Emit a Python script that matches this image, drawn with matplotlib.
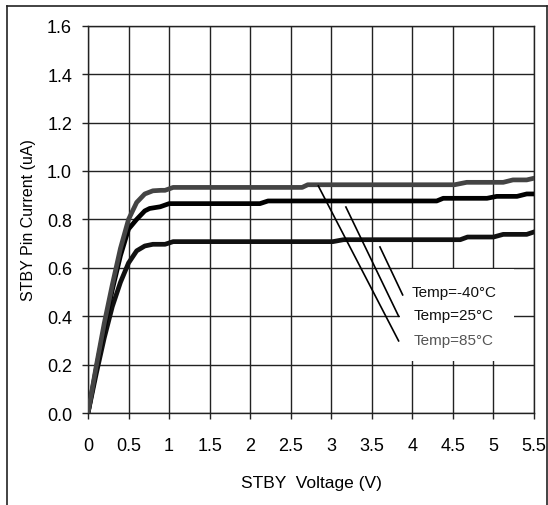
import matplotlib.pyplot as plt
from matplotlib.patches import Rectangle
from matplotlib.lines import Line2D

plt.rcParams['font.family'] = ['Liberation Sans', 'DejaVu Sans']

# STBY voltage (V) vs STBY pin current (uA)
v_85 = [0, 0.1, 0.2, 0.3, 0.4, 0.5, 0.6, 0.7, 0.8, 0.9, 0.95, 1.05,
        2.64, 2.71, 4.52, 4.67, 5.12, 5.24, 5.41, 5.5]
i_85 = [0, 0.19, 0.37, 0.53, 0.68, 0.80, 0.87, 0.905, 0.918, 0.92, 0.92, 0.932,
        0.932, 0.943, 0.943, 0.953, 0.953, 0.963, 0.963, 0.970]

v_25 = [0, 0.1, 0.2, 0.3, 0.4, 0.5, 0.6, 0.7, 0.76, 0.89, 1.0,
        2.12, 2.22, 4.3, 4.38, 4.92, 5.04, 5.29, 5.41, 5.5]
i_25 = [0, 0.18, 0.35, 0.51, 0.65, 0.76, 0.80, 0.835, 0.845, 0.852, 0.865,
        0.865, 0.876, 0.876, 0.887, 0.887, 0.895, 0.895, 0.905, 0.905]

v_m40 = [0, 0.1, 0.2, 0.3, 0.4, 0.5, 0.6, 0.7, 0.8, 0.95, 1.05,
         3.02, 3.15, 4.59, 4.68, 5.0, 5.12, 5.41, 5.5]
i_m40 = [0, 0.16, 0.31, 0.44, 0.54, 0.62, 0.67, 0.69, 0.697, 0.697, 0.708,
         0.708, 0.716, 0.716, 0.727, 0.727, 0.738, 0.738, 0.748]

labels = ["Temp=-40°C", "Temp=25°C", "Temp=85°C"]
label_colors = ["#111111", "#111111", "#555555"]

fig = plt.figure(figsize=(5.48, 5.06), dpi=100)
ax = fig.add_axes([0.1606, 0.1818, 0.8139, 0.7654])

ax.plot(v_m40, i_m40, color="#111111", lw=3.4, solid_joinstyle="round", zorder=3)
ax.plot(v_25, i_25, color="#000000", lw=3.4, solid_joinstyle="round", zorder=3)
ax.plot(v_85, i_85, color="#444444", lw=3.4, solid_joinstyle="round", zorder=3)

ax.set_xlim(0, 5.5)
ax.set_ylim(0, 1.6)
ax.set_xticks([0, 0.5, 1, 1.5, 2, 2.5, 3, 3.5, 4, 4.5, 5, 5.5])
ax.set_xticklabels(["0", "0.5", "1", "1.5", "2", "2.5", "3", "3.5", "4", "4.5", "5", "5.5"])
ax.set_yticks([0.0, 0.2, 0.4, 0.6, 0.8, 1.0, 1.2, 1.4, 1.6])
ax.set_yticklabels(["0.0", "0.2", "0.4", "0.6", "0.8", "1.0", "1.2", "1.4", "1.6"])
ax.tick_params(axis="both", labelsize=13, length=4.5, width=1, color="#222222")
ax.tick_params(axis="y", pad=7)
ax.tick_params(axis="x", pad=13)
ax.grid(True, color="#222222", lw=1)
ax.set_axisbelow(True)
for s in ax.spines.values():
    s.set_color("#222222")
    s.set_linewidth(1)

ax.set_xlabel("STBY  Voltage (V)", fontsize=12.5, labelpad=15)
ax.set_ylabel("STBY Pin Current (uA)", fontsize=11.5, labelpad=8)

# white label box hiding the grid
ax.add_patch(Rectangle((3.85, 0.215), 1.4, 0.38, facecolor="white",
                       edgecolor="none", zorder=1))

# leader lines
ax.plot([3.88, 3.60], [0.488, 0.686], color="black", lw=1.2, zorder=4)
ax.plot([3.83, 3.18], [0.40, 0.851], color="black", lw=1.2, zorder=4)
ax.plot([3.83, 2.84], [0.298, 0.938], color="black", lw=1.2, zorder=4)

for lab, y, c in zip(labels, [0.50, 0.405, 0.302], label_colors):
    ax.text(4.51, y, lab, ha="center", va="center", fontsize=11, color=c, zorder=5)

# outer frame (open at the bottom)
x0, x1, yt = 6.5 / 548, 546.5 / 548, 1 - 6.5 / 506
for xs, ys in [([x0, x0], [0, yt]), ([x0, x1], [yt, yt]), ([x1, x1], [yt, 0])]:
    fig.add_artist(Line2D(xs, ys, color="#222222", lw=1.2, transform=fig.transFigure))

fig.savefig("out.png", dpi=100)
